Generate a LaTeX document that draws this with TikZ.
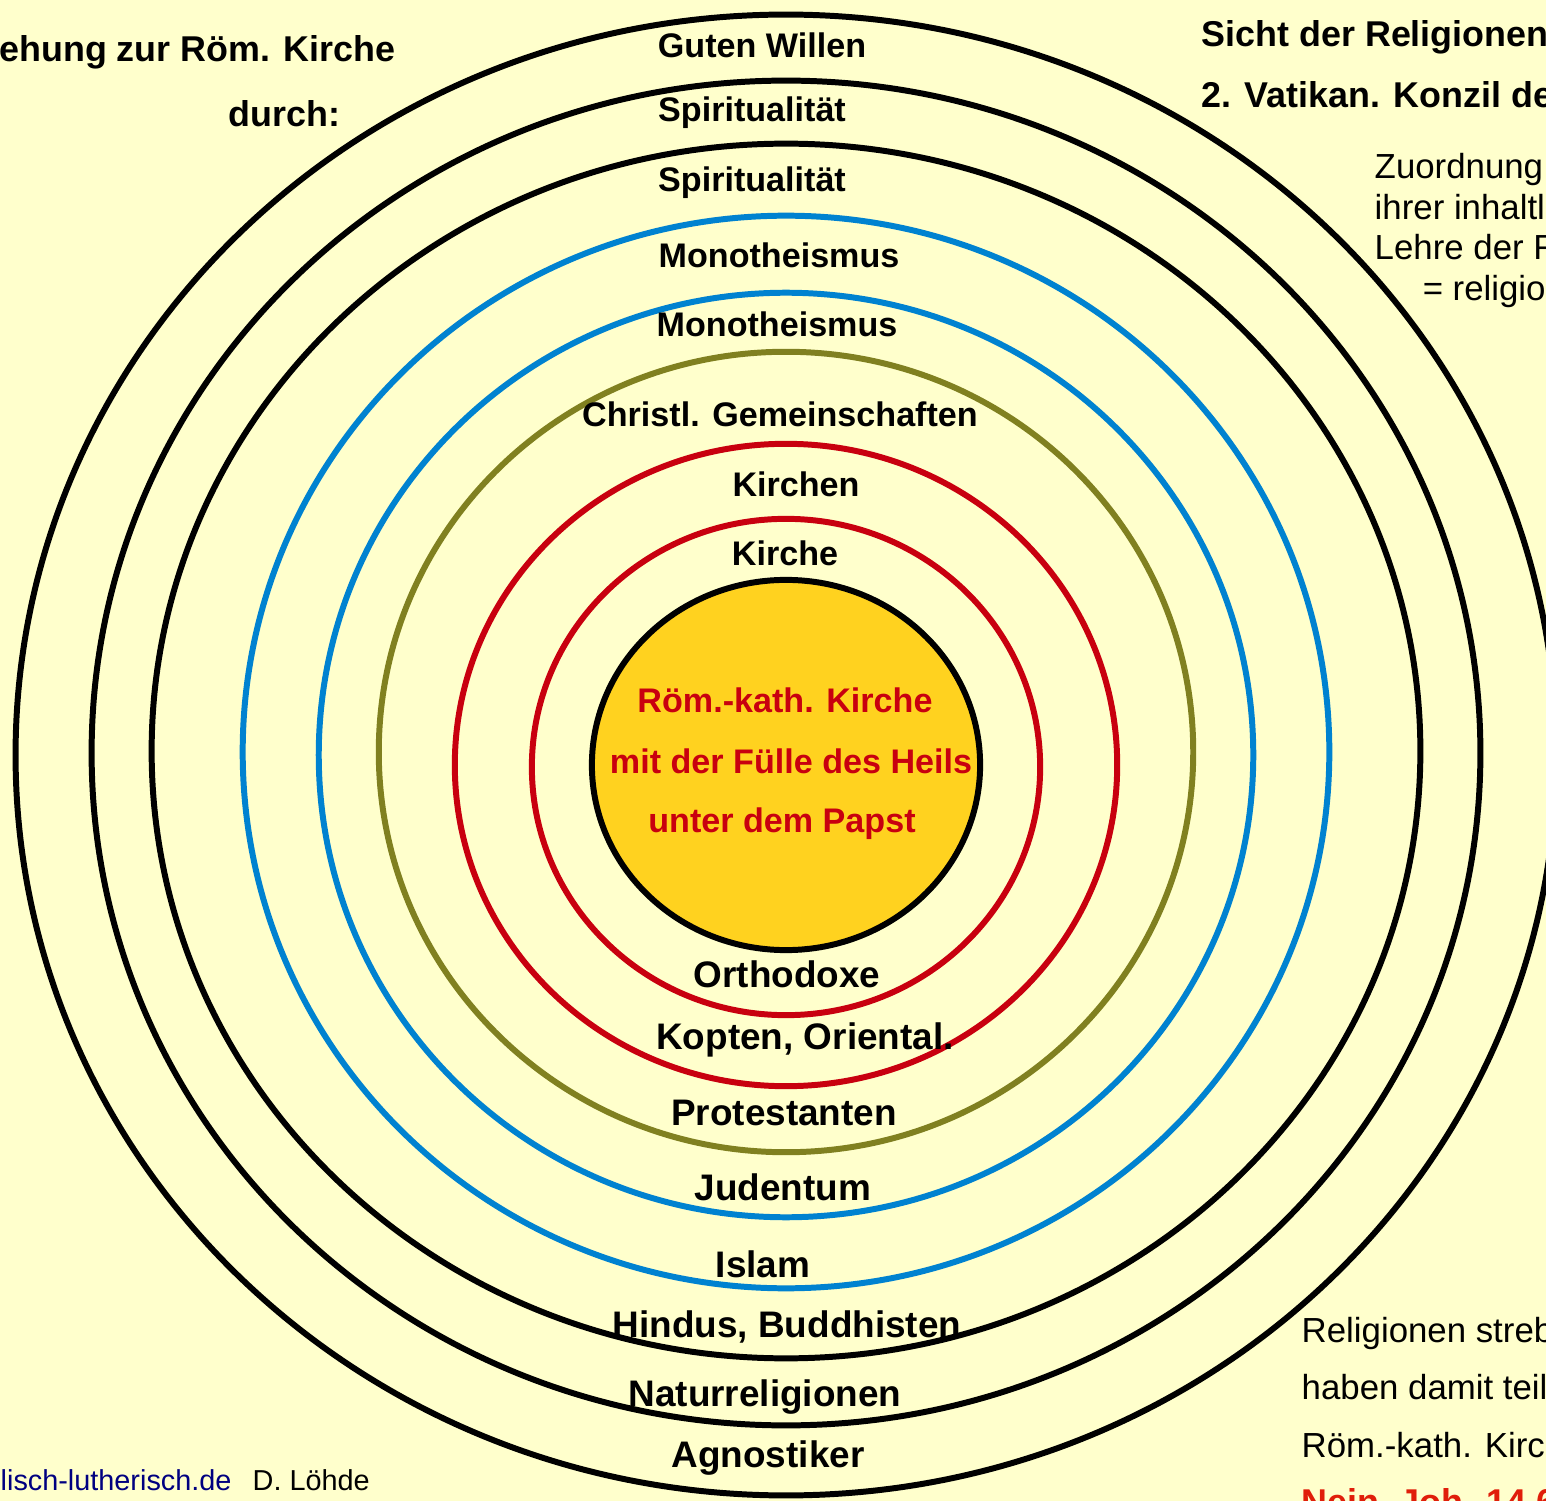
\documentclass[tikz,border=0pt]{standalone}
\usepackage{fontspec}
\setmainfont{Liberation Sans}
\usetikzlibrary{positioning}

\definecolor{bgyellow}{HTML}{FFFFCC}
\definecolor{ringblue}{HTML}{0082D0}
\definecolor{ringolive}{HTML}{808020}
\definecolor{ringred}{HTML}{C8000F}
\definecolor{heilgold}{HTML}{FFD21F}
\definecolor{heilred}{HTML}{C8000F}
\definecolor{urlblue}{HTML}{000080}
\definecolor{neinred}{HTML}{E01E0A}

\tikzset{
  ring/.style={line width=1.7pt},
  lab/.style={inner sep=0pt, anchor=base, font=\fontsize{9.7}{11}\selectfont\bfseries},
  labbig/.style={lab, font=\fontsize{10.5}{12}\selectfont\bfseries},
  heil/.style={inner sep=0pt, text height=0.25cm, text depth=0.07cm, text=heilred,
    font=\fontsize{9.7}{11}\selectfont\bfseries},
  head/.style={inner sep=0pt, font=\fontsize{10.2}{12}\selectfont\bfseries},
  note/.style={inner sep=0pt, text height=0.25cm, text depth=0.07cm,
    font=\fontsize{9.9}{11}\selectfont},
  credit/.style={inner sep=0pt, anchor=base west, font=\fontsize{8.2}{10}\selectfont}
}

\begin{document}
\begin{tikzpicture}[x=0.01cm, y=-0.01cm]
  \useasboundingbox (0,0) rectangle (1546,1501);
  \clip (0,0) rectangle (1546,1501);
  \fill[bgyellow] (0,0) rectangle (1546,1501);

  % rings, from outside in
  \draw[ring] (786,755) ellipse [x radius=7.70cm, y radius=7.40cm];
  \draw[ring] (786,753) ellipse [x radius=6.94cm, y radius=6.72cm];
  \draw[ring] (786,751) ellipse [x radius=6.34cm, y radius=6.07cm];
  \draw[ring, ringblue] (786,752) ellipse [x radius=5.43cm, y radius=5.36cm];
  \draw[ring, ringblue] (786,755) ellipse [x radius=4.67cm, y radius=4.62cm];
  \draw[ring, ringolive] (786,752) ellipse [x radius=4.07cm, y radius=4.00cm];
  \draw[ring, ringred] (786,765) ellipse [x radius=3.31cm, y radius=3.21cm];
  \draw[ring, ringred] (786,767) ellipse [x radius=2.54cm, y radius=2.48cm];
  \filldraw[ring, fill=heilgold] (786,765) ellipse [x radius=1.94cm, y radius=1.85cm];

  % centre
  \node[heil, anchor=base] (rk_1) at (785,712) {Röm.-kath. Kirche};
  \node[heil] (rk_2) [below=0.28cm of rk_1, xshift=0.06cm] {mit der Fülle des Heils};
  \node[heil] (rk_3) [below=0.26cm of rk_2, xshift=-0.09cm] {unter dem Papst};

  % upper labels
  \node[lab] (l_guten) at (762,58) {Guten Willen};
  \node[lab] (l_spir_a) at (752,122) {Spiritualität};
  \node[lab] (l_spir_b) at (752,192) {Spiritualität};
  \node[lab] (l_mono_a) at (779,268) {Monotheismus};
  \node[lab] (l_mono_b) at (777,337) {Monotheismus};
  \node[lab] (l_christl) at (780,427) {Christl. Gemeinschaften};
  \node[lab] (l_kirchen) at (796,497) {Kirchen};
  \node[lab] (l_kirche) at (785,566) {Kirche};

  % lower labels
  \node[labbig] (l_ortho) at (787,987) {Orthodoxe};
  \node[labbig] (l_kopten) at (805,1049) {Kopten, Oriental.};
  \node[labbig] (l_prot) at (784,1125) {Protestanten};
  \node[labbig] (l_juden) at (783,1200) {Judentum};
  \node[labbig] (l_islam) at (763,1277) {Islam};
  \node[labbig] (l_hindus) at (787,1337) {Hindus, Buddhisten};
  \node[labbig] (l_natur) at (765,1406) {Naturreligionen};
  \node[labbig] (l_agno) at (768,1467) {Agnostiker};

  % headings
  \node[head, anchor=base east] (h_bez) at (396,62) {ehung zur Röm. Kirche};
  \node[head, anchor=base east] (h_durch) at (341,127) {durch:};
  \node[head, anchor=base west] (h_sicht) at (1201,47) {Sicht der Religionen};
  \node[head, anchor=base west] (h_vat) at (1201,108) {2. Vatikan. Konzil de};

  % notes on the right
  \node[note, anchor=base west] (zu_1) at (1374,179) {Zuordnung};
  \node[note] (zu_2) [below=0.07cm of zu_1.south west, anchor=north west] {ihrer inhaltli};
  \node[note] (zu_3) [below=0.07cm of zu_2.south west, anchor=north west] {Lehre der R};
  \node[note] (zu_4) [below=0.07cm of zu_3.south west, anchor=north west, xshift=0.48cm] {= religio};

  \node[note, anchor=base west] (rel_1) at (1301,1342) {Religionen streb};
  \node[note] (rel_2) [below=0.245cm of rel_1.south west, anchor=north west] {haben damit teil};
  \node[note] (rel_3) [below=0.245cm of rel_2.south west, anchor=north west] {Röm.-kath. Kirch};
  \node[head, text=neinred, anchor=base west] (nein) at (1301,1514) {Nein, Joh. 14,6};

  % credit
  \node[credit, text=urlblue] (url) at (0,1490) {lisch-lutherisch.de};
  \node[credit] (autor) at (252,1490) {D. Löhde};
\end{tikzpicture}
\end{document}
